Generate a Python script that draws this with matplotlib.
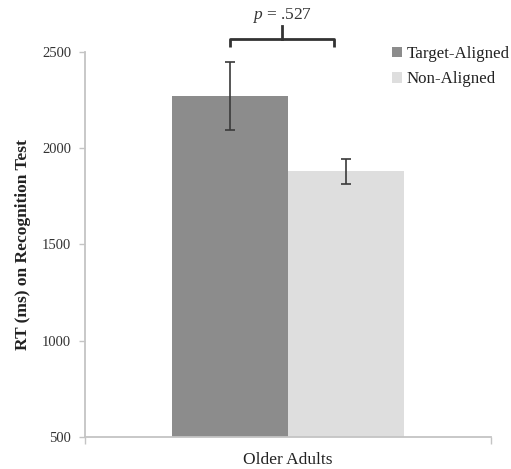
import matplotlib.pyplot as plt
import numpy as np

# ---------------------------------------------------------------------------
# Data: mean recognition RT (ms) with error bars, older adults
# ---------------------------------------------------------------------------
group_label = "Older Adults"
conditions = ["Target-Aligned", "Non-Aligned"]
mean_rt = [2270, 1880]
err_rt = [177, 66]
p_text = r"$\it{p}$ = .527"

bar_colors = ["#8c8c8c", "#dedede"]
SERIF = ["Liberation Serif", "DejaVu Serif"]

plt.rcParams["font.family"] = SERIF
plt.rcParams["mathtext.fontset"] = "custom"
plt.rcParams["mathtext.it"] = "Liberation Serif:italic"
plt.rcParams["mathtext.rm"] = "Liberation Serif"

fig = plt.figure(figsize=(5.11, 4.69), dpi=100)
ax = fig.add_axes([85 / 511, 1 - 437 / 469, 406 / 511, 385 / 469])

# two bars side by side around the group centre
width = 0.2845
centers = [0.5 - width / 2, 0.5 + width / 2]
for xc, m, e, c, lab in zip(centers, mean_rt, err_rt, bar_colors, conditions):
    ax.bar(xc, m - 500, bottom=500, width=width, color=c, label=lab, zorder=2)
    ax.errorbar(xc, m, yerr=e, fmt="none", ecolor="#3a3a3a",
                elinewidth=1.2, capsize=3.5, capthick=1.2, zorder=3)

ax.set_xlim(0, 1)
ax.set_ylim(500, 2500)
ax.set_yticks([500, 1000, 1500, 2000, 2500])
ax.set_xticks([0, 1])
ax.set_xticklabels(["", ""])
ax.text(0.5, -0.04, group_label, transform=ax.transAxes, ha="center",
        va="top", fontsize=12.5, color="#222222")

for s in ["top", "right"]:
    ax.spines[s].set_visible(False)
for s in ["left", "bottom"]:
    ax.spines[s].set_color("#c4c4c4")
    ax.spines[s].set_linewidth(1.3)
ax.tick_params(axis="y", length=4, width=1, color="#c4c4c4",
               labelsize=10.5, labelcolor="#333333", pad=6)
ax.tick_params(axis="x", length=5, width=1, color="#c4c4c4", direction="out")

ax.set_ylabel("RT (ms) on Recognition Test", fontsize=12.5, fontweight="bold",
              color="#222222", labelpad=8)

# significance bracket over the two bars
x_left = centers[0]
x_right = centers[1] - 0.028
x_mid = (x_left + x_right) / 2
ax.plot([x_left, x_left, x_right, x_right], [2526, 2568, 2568, 2526],
        color="#333333", lw=2, solid_joinstyle="round",
        solid_capstyle="butt", clip_on=False)
ax.plot([x_mid, x_mid], [2568, 2635], color="#333333", lw=2, clip_on=False)
ax.text(x_mid, 2690, p_text, ha="center", va="center", fontsize=12.5,
        color="#333333")

leg = ax.legend(loc="upper left", bbox_to_anchor=(392 / 511, 1 - 46 / 469),
                bbox_transform=fig.transFigure, frameon=False, fontsize=12.2,
                handlelength=0.6, handleheight=0.6, handletextpad=0.25,
                labelspacing=0.55, borderaxespad=0, borderpad=0)
for t in leg.get_texts():
    t.set_color("#222222")

fig.savefig("out.png", dpi=100)
